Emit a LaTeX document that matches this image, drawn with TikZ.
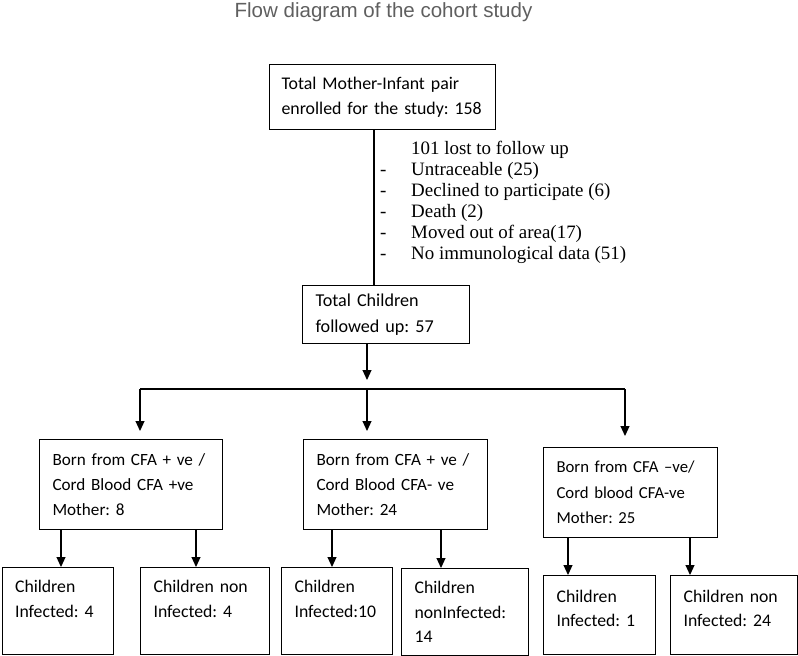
\documentclass[tikz,border=0pt]{standalone}
\usepackage{fontspec}
\setmainfont{Carlito}
\newfontfamily\listfont{Liberation Serif}
\newfontfamily\headfont{Liberation Sans}
\usetikzlibrary{arrows.meta}
\frenchspacing
\definecolor{headgray}{RGB}{95,95,95}
\tikzset{box/.style={draw,line width=1.1bp,align=left,anchor=north west,inner xsep=13bp,inner ysep=0pt,font=\fontsize{18.2}{26}\selectfont},
  midbox/.style={box,font=\fontsize{17.2}{25.5}\selectfont},
  leafbox/.style={box,font=\fontsize{17.8}{24.5}\selectfont},
  arr/.style={line width=1.1bp,-{Triangle[length=10bp,width=9bp]}},
  link/.style={line width=1.1bp}}
\newcommand{\flowbox}[7][box]{\node[#1,text width=#5bp,minimum height=#6bp] (#2) at (#3,#4) {#7};}
\newcommand{\down}[3]{\draw[arr] ([xshift=#3bp]#1.south west) coordinate (tmp) -- (tmp |- #2.north);}
\newcommand{\lostitem}[1]{\makebox[31bp][l]{#1}}

\begin{document}
\begin{tikzpicture}[x=1bp,y=-1bp]
    \useasboundingbox (0,0) rectangle (798,656);
    \node[font=\headfont\fontsize{20.6}{24}\selectfont,text=headgray,anchor=base,inner sep=0] (title) at (383.5,18) {Flow diagram of the cohort study};
    \flowbox[box,inner xsep=12bp,font=\fontsize{17.9}{25.5}\selectfont]{enrolled}{269}{64}{202}{65}{\mbox{Total Mother-Infant pair}\\\mbox{enrolled for the study: 158}}
    \flowbox{followed}{302}{285}{141}{58}{Total Children\\followed up: 57}
    % reasons for loss to follow up
    \node[anchor=base west,inner sep=0,font=\listfont\fontsize{19}{21}\selectfont] (lost) at (380,155) {%
      \begin{tabular}[t]{@{}l@{}l@{}}
      \lostitem{} & 101 lost to follow up\\
      \lostitem{-} & Untraceable (25)\\
      \lostitem{-} & Declined to participate (6)\\
      \lostitem{-} & Death (2)\\
      \lostitem{-} & Moved out of area(17)\\
      \lostitem{-} & No immunological data (51)
      \end{tabular}};
    \flowbox[midbox]{posA}{39}{439}{157}{90}{Born from CFA + ve /\\Cord Blood CFA +ve\\Mother: 8}
    \flowbox[midbox]{posB}{303}{439}{158}{90}{Born from CFA + ve /\\Cord Blood CFA- ve\\Mother: 24}
    \flowbox[midbox,font=\fontsize{16.8}{25.5}\selectfont]{negC}{543}{447}{148}{90}{\mbox{Born from CFA --ve/}\\Cord blood CFA-ve\\Mother: 25}
    \flowbox[leafbox]{infA}{1.5}{567}{85}{87}{Children\\Infected: 4\\\mbox{}}
    \flowbox[leafbox]{nonA}{140}{567}{103}{87}{Children non\\Infected: 4\\\mbox{}}
    \flowbox[leafbox]{infB}{281}{567}{85}{87}{Children\\Infected:10\\\mbox{}}
    \flowbox[leafbox]{nonB}{401}{568}{101}{87}{Children\\nonInfected:\\14}
    \flowbox[leafbox]{infC}{543}{575}{86}{79}{Children\\Infected: 1\\[-11bp]\mbox{}}
    \flowbox[leafbox]{nonC}{670}{575}{101}{79}{Children non\\Infected: 24\\[-11bp]\mbox{}}
    % trunk and branches
    \coordinate (trunk) at (374,0); \coordinate (hub) at (367,380);
    \coordinate (lbranch) at (140,389); \coordinate (mbranch) at (367,389); \coordinate (rbranch) at (625,389);
    \draw[link] (enrolled.south -| trunk) -- (followed.north -| trunk);
    \draw[arr] (followed.south -| hub) -- (hub);
    \draw[link] (lbranch) -- (rbranch);
    \draw[arr,shorten >=8bp] (lbranch) -- (lbranch |- posA.north);
    \draw[arr,shorten >=8bp] (mbranch) -- (mbranch |- posB.north);
    \draw[arr,shorten >=11bp] (rbranch) -- (rbranch |- negC.north);
    \down{posA}{infA}{22} \down{posA}{nonA}{157}
    \down{posB}{infB}{29} \down{posB}{nonB}{138}
    \down{negC}{infC}{25} \down{negC}{nonC}{147}
\end{tikzpicture}
\end{document}
